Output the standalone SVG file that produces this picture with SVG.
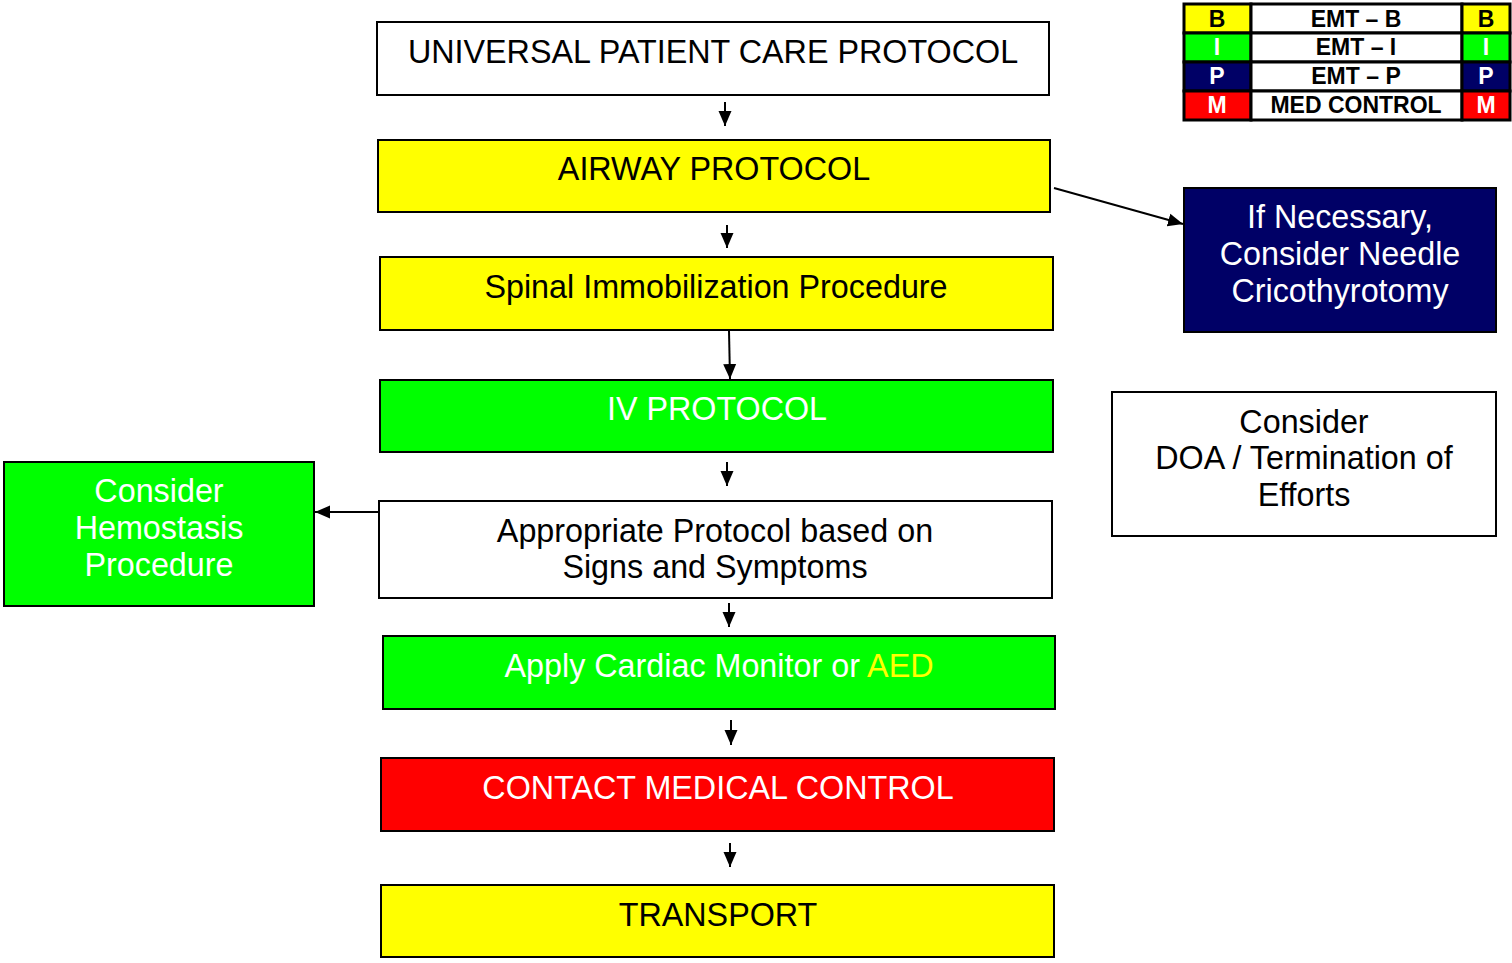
<svg xmlns="http://www.w3.org/2000/svg" width="1512" height="963" viewBox="0 0 1512 963">
<style>
.box{stroke:#000;stroke-width:2}
.t{font-family:"Liberation Sans",Arial,sans-serif;font-size:32.3px;text-anchor:middle}
.lg{font-family:"Liberation Sans",Arial,sans-serif;font-size:23px;font-weight:bold;text-anchor:middle}
.cell{stroke:#000;stroke-width:3}
.c{stroke:#000;stroke-width:2;fill:none}
</style>
<defs>
<marker id="ah" markerWidth="16" markerHeight="14" refX="15" refY="7" orient="auto" markerUnits="userSpaceOnUse">
<path d="M0,0.5 L15,7 L0,13.5 Z" fill="#000"/>
</marker>
</defs>
<rect width="1512" height="963" fill="#fff"/>

<g id="legend">
<rect class="cell" x="1184" y="4" width="67" height="29" fill="#ffff00"/>
<rect class="cell" x="1251" y="4" width="211" height="29" fill="#fff"/>
<rect class="cell" x="1462" y="4" width="48" height="29" fill="#ffff00"/>
<rect class="cell" x="1184" y="33" width="67" height="29" fill="#00ff00"/>
<rect class="cell" x="1251" y="33" width="211" height="29" fill="#fff"/>
<rect class="cell" x="1462" y="33" width="48" height="29" fill="#00ff00"/>
<rect class="cell" x="1184" y="62" width="67" height="29" fill="#000066"/>
<rect class="cell" x="1251" y="62" width="211" height="29" fill="#fff"/>
<rect class="cell" x="1462" y="62" width="48" height="29" fill="#000066"/>
<rect class="cell" x="1184" y="91" width="67" height="29" fill="#ff0000"/>
<rect class="cell" x="1251" y="91" width="211" height="29" fill="#fff"/>
<rect class="cell" x="1462" y="91" width="48" height="29" fill="#ff0000"/>
<text class="lg" x="1217" y="27">B</text>
<text class="lg" x="1356" y="27">EMT – B</text>
<text class="lg" x="1486" y="27">B</text>
<text class="lg" x="1217" y="55" fill="#fff">I</text>
<text class="lg" x="1356" y="55">EMT – I</text>
<text class="lg" x="1486" y="55" fill="#fff">I</text>
<text class="lg" x="1217" y="84" fill="#fff">P</text>
<text class="lg" x="1356" y="84">EMT – P</text>
<text class="lg" x="1486" y="84" fill="#fff">P</text>
<text class="lg" x="1217" y="113" fill="#fff">M</text>
<text class="lg" x="1356" y="113">MED CONTROL</text>
<text class="lg" x="1486" y="113" fill="#fff">M</text>
</g>

<g id="n-universal">
<rect class="box" x="377" y="22" width="672" height="73" fill="#fff"/>
<text class="t" x="713" y="63">UNIVERSAL PATIENT CARE PROTOCOL</text>
</g>
<g id="n-airway">
<rect class="box" x="378" y="140" width="672" height="72" fill="#ffff00"/>
<text class="t" x="714" y="180">AIRWAY PROTOCOL</text>
</g>
<g id="n-spinal">
<rect class="box" x="380" y="257" width="673" height="73" fill="#ffff00"/>
<text class="t" x="716" y="298">Spinal Immobilization Procedure</text>
</g>
<g id="n-iv">
<rect class="box" x="380" y="380" width="673" height="72" fill="#00ff00"/>
<text class="t" x="717" y="420" fill="#fff">IV PROTOCOL</text>
</g>
<g id="n-appropriate">
<rect class="box" x="379" y="501" width="673" height="97" fill="#fff"/>
<text class="t" x="715" y="542">Appropriate Protocol based on</text>
<text class="t" x="715" y="578">Signs and Symptoms</text>
</g>
<g id="n-apply">
<rect class="box" x="383" y="636" width="672" height="73" fill="#00ff00"/>
<text class="t" x="719" y="677" fill="#fff">Apply Cardiac Monitor or <tspan fill="#ffff00">AED</tspan></text>
</g>
<g id="n-contact">
<rect class="box" x="381" y="758" width="673" height="73" fill="#ff0000"/>
<text class="t" x="718" y="799" fill="#fff">CONTACT MEDICAL CONTROL</text>
</g>
<g id="n-transport">
<rect class="box" x="381" y="885" width="673" height="72" fill="#ffff00"/>
<text class="t" x="718" y="926">TRANSPORT</text>
</g>
<g id="n-needle">
<rect class="box" x="1184" y="188" width="312" height="144" fill="#000066"/>
<text class="t" x="1340" y="228" fill="#fff">If Necessary,</text>
<text class="t" x="1340" y="265" fill="#fff">Consider Needle</text>
<text class="t" x="1340" y="302" fill="#fff">Cricothyrotomy</text>
</g>
<g id="n-doa">
<rect class="box" x="1112" y="392" width="384" height="144" fill="#fff"/>
<text class="t" x="1304" y="433">Consider</text>
<text class="t" x="1304" y="469">DOA / Termination of</text>
<text class="t" x="1304" y="506">Efforts</text>
</g>
<g id="n-hemostasis">
<rect class="box" x="4" y="462" width="310" height="144" fill="#00ff00"/>
<text class="t" x="159" y="502" fill="#fff">Consider</text>
<text class="t" x="159" y="539" fill="#fff">Hemostasis</text>
<text class="t" x="159" y="576" fill="#fff">Procedure</text>
</g>

<g id="connectors">
<path class="c" d="M725,102 L725,126" marker-end="url(#ah)"/>
<path class="c" d="M727,225 L727,248" marker-end="url(#ah)"/>
<path class="c" d="M729,331 L730,379" marker-end="url(#ah)"/>
<path class="c" d="M727,462 L727,486" marker-end="url(#ah)"/>
<path class="c" d="M729,603 L729,627" marker-end="url(#ah)"/>
<path class="c" d="M731,720 L731,745" marker-end="url(#ah)"/>
<path class="c" d="M730,843 L730,867" marker-end="url(#ah)"/>
<path class="c" d="M1054,188 L1183,224" marker-end="url(#ah)"/>
<path class="c" d="M379,512 L315,512" marker-end="url(#ah)"/>
</g>
</svg>
